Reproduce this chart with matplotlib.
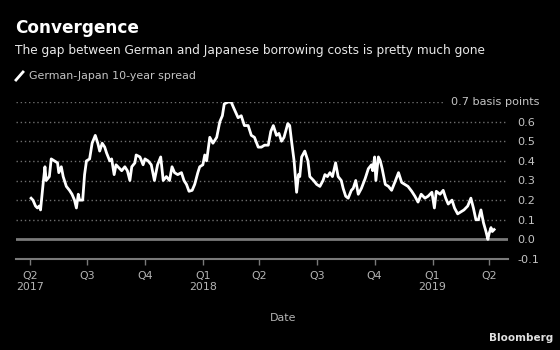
import matplotlib
matplotlib.use("Agg")
import matplotlib.pyplot as plt
from matplotlib.lines import Line2D
import pandas as pd

plt.rcParams['font.family'] = ['DejaVu Sans']

dates = [
    "2017-04-03", "2017-04-06", "2017-04-10", "2017-04-13", "2017-04-16", "2017-04-18",
    "2017-04-22", "2017-04-25", "2017-04-27", "2017-05-02", "2017-05-05", "2017-05-10",
    "2017-05-15", "2017-05-17", "2017-05-21", "2017-05-24", "2017-05-29", "2017-06-03",
    "2017-06-07", "2017-06-11", "2017-06-14", "2017-06-17", "2017-06-19", "2017-06-24",
    "2017-06-27", "2017-06-30", "2017-07-05", "2017-07-09", "2017-07-14", "2017-07-18",
    "2017-07-21", "2017-07-25", "2017-07-29", "2017-08-01", "2017-08-06", "2017-08-09",
    "2017-08-13", "2017-08-16", "2017-08-22", "2017-08-25", "2017-08-30", "2017-09-03",
    "2017-09-07", "2017-09-10", "2017-09-15", "2017-09-17", "2017-09-23", "2017-09-28",
    "2017-10-01", "2017-10-06", "2017-10-11", "2017-10-16", "2017-10-21", "2017-10-26",
    "2017-10-30", "2017-11-04", "2017-11-09", "2017-11-13", "2017-11-17", "2017-11-22",
    "2017-11-28", "2017-12-02", "2017-12-06", "2017-12-10", "2017-12-15", "2017-12-19",
    "2017-12-24", "2017-12-27", "2018-01-01", "2018-01-04", "2018-01-07", "2018-01-12",
    "2018-01-17", "2018-01-23", "2018-01-28", "2018-02-01", "2018-02-04", "2018-02-10",
    "2018-02-15", "2018-02-19", "2018-02-26", "2018-03-03", "2018-03-08", "2018-03-14",
    "2018-03-19", "2018-03-24", "2018-03-30", "2018-04-04", "2018-04-09", "2018-04-15",
    "2018-04-19", "2018-04-23", "2018-04-28", "2018-05-02", "2018-05-06", "2018-05-10",
    "2018-05-16", "2018-05-19", "2018-05-22", "2018-05-26", "2018-05-30", "2018-06-02",
    "2018-06-04", "2018-06-07", "2018-06-12", "2018-06-17", "2018-06-20", "2018-06-26",
    "2018-07-01", "2018-07-06", "2018-07-11", "2018-07-14", "2018-07-18", "2018-07-22",
    "2018-07-26", "2018-07-31", "2018-08-04", "2018-08-09", "2018-08-12", "2018-08-16",
    "2018-08-20", "2018-08-25", "2018-08-28", "2018-09-01", "2018-09-05", "2018-09-10",
    "2018-09-16", "2018-09-21", "2018-09-26", "2018-09-28", "2018-10-01", "2018-10-03",
    "2018-10-07", "2018-10-10", "2018-10-13", "2018-10-18", "2018-10-23", "2018-10-28",
    "2018-11-02", "2018-11-08", "2018-11-13", "2018-11-18", "2018-11-23", "2018-11-29",
    "2018-12-04", "2018-12-09", "2018-12-14", "2018-12-20", "2018-12-25", "2018-12-31",
    "2019-01-04", "2019-01-07", "2019-01-13", "2019-01-18", "2019-01-22", "2019-01-26",
    "2019-02-01", "2019-02-05", "2019-02-10", "2019-02-15", "2019-02-20", "2019-02-26",
    "2019-03-03", "2019-03-07", "2019-03-11", "2019-03-15", "2019-03-19", "2019-03-23",
    "2019-03-27", "2019-03-30", "2019-04-01", "2019-04-04", "2019-04-06", "2019-04-09",
]
spread = [
    0.21, 0.20, 0.17, 0.16, 0.17, 0.15,
    0.28, 0.37, 0.30, 0.32, 0.41, 0.40,
    0.39, 0.34, 0.37, 0.32, 0.27, 0.25,
    0.23, 0.20, 0.16, 0.23, 0.20, 0.20,
    0.33, 0.40, 0.41, 0.49, 0.53, 0.49,
    0.45, 0.49, 0.47, 0.44, 0.40, 0.41,
    0.33, 0.38, 0.36, 0.35, 0.37, 0.35,
    0.30, 0.37, 0.39, 0.43, 0.42, 0.38,
    0.41, 0.40, 0.38, 0.30, 0.38, 0.42,
    0.30, 0.32, 0.30, 0.37, 0.34, 0.33,
    0.34, 0.30, 0.28, 0.245, 0.25, 0.28,
    0.34, 0.37, 0.38, 0.43, 0.40, 0.52,
    0.49, 0.52, 0.60, 0.63, 0.69, 0.70,
    0.70, 0.67, 0.62, 0.63, 0.58, 0.58,
    0.53, 0.52, 0.47, 0.47, 0.48, 0.48,
    0.55, 0.58, 0.53, 0.54, 0.50, 0.52,
    0.59, 0.58, 0.50, 0.40, 0.24, 0.33,
    0.32, 0.42, 0.45, 0.40, 0.32, 0.30,
    0.28, 0.27, 0.30, 0.33, 0.32, 0.34,
    0.32, 0.39, 0.32, 0.30, 0.26, 0.22,
    0.21, 0.25, 0.26, 0.30, 0.23, 0.26,
    0.31, 0.36, 0.38, 0.35, 0.42, 0.30,
    0.42, 0.40, 0.36, 0.28, 0.27, 0.25,
    0.29, 0.34, 0.29, 0.28, 0.27, 0.245,
    0.22, 0.19, 0.23, 0.21, 0.22, 0.24,
    0.16, 0.245, 0.23, 0.25, 0.21, 0.18,
    0.20, 0.16, 0.13, 0.14, 0.15, 0.17,
    0.21, 0.16, 0.10, 0.10, 0.15, 0.085,
    0.04, 0.00, 0.03, 0.06, 0.04, 0.05,
]

tick_dates = ["2017-04-01", "2017-07-01", "2017-10-01", "2018-01-01", "2018-04-01",
              "2018-07-01", "2018-10-01", "2019-01-01", "2019-04-01"]
tick_labels = ["Q2\n2017", "Q3", "Q4", "Q1\n2018", "Q2", "Q3", "Q4", "Q1\n2019", "Q2"]
y_ticks = [-0.1, 0.0, 0.1, 0.2, 0.3, 0.4, 0.5, 0.6]
y_labels = ["-0.1", "0.0", "0.1", "0.2", "0.3", "0.4", "0.5", "0.6"]

title = "Convergence"
subtitle = "The gap between German and Japanese borrowing costs is pretty much gone"
legend_label = "German-Japan 10-year spread"

W, H = 560, 350
fig = plt.figure(figsize=(W / 100, H / 100), dpi=100, facecolor="black")

def fx(px):
    return px / W

def fy(py):
    return 1 - py / H

ax_left, ax_right, ax_top, ax_bottom = 16, 508, 102, 259
ax = fig.add_axes([fx(ax_left), fy(ax_bottom), fx(ax_right - ax_left), (ax_bottom - ax_top) / H])
ax.set_facecolor("black")

x = pd.to_datetime(dates)
ax.set_xlim(pd.Timestamp("2017-03-10"), pd.Timestamp("2019-05-01"))
ax.set_ylim(-0.1, 0.7)

grid_col = "#6e6e6e"
for v in [0.1, 0.2, 0.3, 0.4, 0.5, 0.6]:
    ax.axhline(v, color=grid_col, lw=1.0, ls=(0, (1, 2)), zorder=1)
ax.axhline(0.7, xmax=(445 - ax_left) / (ax_right - ax_left), color=grid_col, lw=1.0,
           ls=(0, (1, 2)), zorder=1)
ax.axhline(0.0, color="#7a7a7a", lw=2.0, zorder=1)

ax.plot(x, spread, color="white", lw=2.0, zorder=3)

for s in ["top", "left", "right"]:
    ax.spines[s].set_visible(False)
ax.spines["bottom"].set_color("#7a7a7a")
ax.spines["bottom"].set_linewidth(1.5)

ax.set_xticks(pd.to_datetime(tick_dates))
ax.set_xticklabels(tick_labels, color="#b4b4b4", fontsize=7.9, linespacing=1.2)
ax.tick_params(axis="x", length=4, width=1, color="#7a7a7a", pad=4.5)

ax.yaxis.tick_right()
ax.set_yticks(y_ticks)
ax.set_yticklabels(y_labels, color="#c4c4c4", fontsize=8.1)
ax.tick_params(axis="y", length=0, pad=6.5)

ax.text(1.065, 0.7, "0.7 basis points", transform=ax.get_yaxis_transform(),
        ha="right", va="center", color="#c4c4c4", fontsize=8.1)

fig.text(fx(15), fy(33), title, color="white", fontsize=12.2, fontweight="bold",
         ha="left", va="baseline")
fig.text(fx(15), fy(54), subtitle, color="#e8e8e8", fontsize=8.75,
         ha="left", va="baseline")
fig.add_artist(Line2D([fx(16), fx(23)], [fy(80), fy(72)], color="white", lw=2,
                      transform=fig.transFigure))
fig.text(fx(29), fy(79), legend_label, color="#c4c4c4", fontsize=7.9,
         ha="left", va="baseline")
fig.text(fx(283), fy(318), "Date", color="#b4b4b4", fontsize=7.9,
         ha="center", va="center")
fig.text(fx(553), fy(338), "Bloomberg", color="#e0e0e0", fontsize=7.5,
         fontweight="bold", ha="right", va="center")

fig.savefig("out.png", dpi=100, facecolor="black")
